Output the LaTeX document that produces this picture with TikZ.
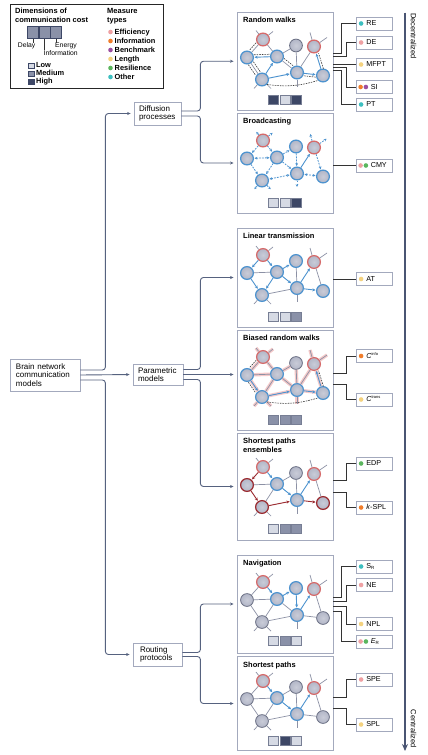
\documentclass[tikz,border=0pt]{standalone}
\usepackage{fontspec}
\setmainfont{Liberation Sans}
\usetikzlibrary{arrows.meta,calc}
\definecolor{treec}{HTML}{56627F}
\definecolor{panelc}{HTML}{A3A9BD}
\definecolor{nodefill}{HTML}{B2B6C7}
\definecolor{nblue}{HTML}{4D93CF}
\definecolor{nred}{HTML}{D66A6A}
\definecolor{ngray}{HTML}{6B7084}
\definecolor{ndred}{HTML}{9B2B30}
\definecolor{egray}{HTML}{8C91A5}
\definecolor{pinkhalo}{HTML}{F4C9C9}
\definecolor{cLow}{HTML}{D6DAE4}
\definecolor{cMed}{HTML}{8A91A8}
\definecolor{cHigh}{HTML}{3D4766}
\definecolor{mEff}{HTML}{EFA1A3}
\definecolor{mInf}{HTML}{F07D2B}
\definecolor{mBen}{HTML}{9C4FA0}
\definecolor{mLen}{HTML}{F4D27F}
\definecolor{mRes}{HTML}{5BB65E}
\definecolor{mOth}{HTML}{3DBFC0}
\definecolor{axisc}{HTML}{4A5573}
\tikzset{
  box/.style={draw=panelc, line width=0.8pt, fill=white, align=left, inner ysep=3pt,
    font=\fontsize{8}{8.7}\selectfont},
  panel/.style={draw=panelc, line width=0.9pt, minimum width=96pt, inner sep=0pt},
  ttl/.style={font=\bfseries\fontsize{7.5}{9}\selectfont, anchor=base west, inner sep=0pt},
  lgtitle/.style={font=\bfseries\fontsize{7.5}{9}\selectfont, anchor=base west, inner sep=0pt},
  small/.style={font=\fontsize{6.8}{8}\selectfont, inner sep=0pt},
  litem/.style={font=\bfseries\fontsize{7.4}{8}\selectfont, inner sep=0pt, anchor=west, text height=5.4pt, text depth=1.4pt},
  lsq/.style={draw=cHigh, line width=0.6pt, minimum width=11pt, minimum height=11.5pt, inner sep=0pt},
  lsqs/.style={draw=cHigh, line width=0.5pt, minimum size=5.5pt, inner sep=0pt},
  nd/.style={circle, minimum size=12.8pt, inner sep=0pt, inner color=nodefill!70!white, outer color=nodefill, line width=1.2pt},
  bn/.style={nd, draw=nblue},
  rn/.style={nd, draw=nred},
  gn/.style={nd, draw=ngray, line width=0.8pt},
  dn/.style={nd, draw=ndred},
  ed/.style={draw=egray, line width=0.7pt},
  halo/.style={draw=pinkhalo, line width=3.4pt},
  ba/.style={draw=nblue, line width=0.9pt, -{Stealth[length=3.2pt,width=3pt]}, shorten >=0.5pt},
  ra/.style={draw=ndred, line width=0.9pt, -{Stealth[length=3.2pt,width=3pt]}, shorten >=0.5pt},
  bda/.style={draw=nblue, line width=0.8pt, dash pattern=on 1.8pt off 1.2pt, -{Stealth[length=2.8pt,width=2.7pt]}, shorten >=0.5pt},
  bdd/.style={draw=nblue, line width=0.8pt, dash pattern=on 1.8pt off 1.2pt, {Stealth[length=2.8pt,width=2.7pt]}-{Stealth[length=2.8pt,width=2.7pt]}, shorten >=0.5pt, shorten <=0.5pt},
  dsh/.style={draw=black!75, line width=0.6pt, dash pattern=on 1.6pt off 1pt},
  costsq/.style={draw=cHigh!70, line width=0.5pt, minimum width=10pt, minimum height=9pt, inner sep=0pt},
  meas/.style={draw=panelc, line width=0.8pt, fill=white, minimum width=36pt, minimum height=13pt, inner sep=0pt},
  mtext/.style={font=\fontsize{7.2}{8}\selectfont, anchor=west, inner sep=0pt, text height=5.2pt, text depth=0.8pt},
  dot/.style={circle, minimum size=4.6pt, inner sep=0pt},
  mline/.style={draw=black!80, line width=0.8pt},
  tree/.style={draw=treec, line width=0.9pt, rounded corners=3pt, -{Stealth[length=3.5pt,width=3pt]}, shorten >=3pt},
  axis/.style={draw=axisc, line width=1.8pt, -{Stealth[length=7pt,width=6pt]}},
  side/.style={font=\fontsize{7.5}{9}\selectfont, inner sep=0pt, rotate=-90}
}
\newcommand\netnodes[9]{%
  \node[#2] (#1A) at (26,27) {};
  \node[#3] (#1B) at (59,33) {};
  \node[#4] (#1C) at (77,34) {};
  \node[#5] (#1D) at (10,45) {};
  \node[#6] (#1E) at (40,44) {};
  \node[#7] (#1F) at (25,67) {};
  \node[#8] (#1G) at (60,60) {};
  \node[#9] (#1H) at (86,63) {};
}
\newcommand\netstubs[2]{%
  \draw[#2] (#1A) -- ++(-7,-9);
  \draw[#2] (#1A) -- ++(10,-8);
  \draw[#2] (#1C) -- ++(-4,-14);
  \draw[#2] (#1C) -- ++(13,-9);
  \draw[#2] (#1F) -- ++(-8,9);
  \draw[#2] (#1F) -- ++(9,9);
  \draw[#2] (#1G) -- ++(0,14);
}
\newcommand\ned[4]{\draw[#1] (#2#3) -- (#2#4);}
\newcommand\cost[5]{%
  \node[costsq, fill=#3] (#1ca) at ([xshift=-11.5pt,yshift=#2]#1.south) {};
  \node[costsq, fill=#4] (#1cb) at ([yshift=#2]#1.south) {};
  \node[costsq, fill=#5] (#1cc) at ([xshift=11.5pt,yshift=#2]#1.south) {};
}
\newcommand\measbox[4]{%
  \node[meas] (m#1) at (374,#2) {};
  \node[dot, fill=#3] (m#1d) at ([xshift=5.5pt]m#1.west) {};
  \node[mtext] (m#1t) at ([xshift=10.5pt]m#1.west) {#4};
}
\newcommand\measboxb[5]{%
  \node[meas] (m#1) at (374,#2) {};
  \node[dot, fill=#3] (m#1d) at ([xshift=5pt]m#1.west) {};
  \node[dot, fill=#4] (m#1e) at ([xshift=10.3pt]m#1.west) {};
  \node[mtext] (m#1t) at ([xshift=15pt]m#1.west) {#5};
}
\begin{document}
\begin{tikzpicture}[x=1pt,y=-1pt]
\useasboundingbox (0,0) rectangle (428,755);
\fill[white] (0,0) rectangle (428,755);

% ---------------- legend
\node[draw=black!85, line width=0.8pt, minimum width=153pt, minimum height=84pt, inner sep=0pt] (legend) at (86.5,46) {};
\node[lgtitle] (lg1) at (15,13) {Dimensions of};
\node[lgtitle] (lg2) at (15,22) {communication cost};
\node[lgtitle] (lg3) at (107,13) {Measure};
\node[lgtitle] (lg4) at (107,22) {types};
\node[lsq, fill=cMed] (ls1) at (33,32.5) {};
\node[lsq, fill=cMed] (ls2) at (44.5,32.5) {};
\node[lsq, fill=cMed] (ls3) at (56,32.5) {};
\node[small, anchor=north east] (lDelay) at (35.5,42.8) {Delay};
\node[small, anchor=north west] (lInfo) at (43.5,50.2) {Information};
\node[small, anchor=north west] (lEn) at (55,42.8) {Energy};
\draw[black!80, line width=0.6pt] (ls1.south) -- (ls1.south |- lDelay.north);
\draw[black!80, line width=0.6pt] (ls2.south) -- (ls2.south |- lInfo.north);
\draw[black!80, line width=0.6pt] (ls3.south) -- (ls3.south |- lEn.north);
\node[lsqs, fill=cLow] (lLowS) at (31,65.5) {};
\node[lsqs, fill=cMed] (lMedS) at (31,73.5) {};
\node[lsqs, fill=cHigh] (lHighS) at (31,81.5) {};
\node[litem] (lLow) at (36,65.5) {Low};
\node[litem] (lMed) at (36,73.5) {Medium};
\node[litem] (lHigh) at (36,81.5) {High};
\node[dot, fill=mEff] (dEff) at (110.5,32) {};
\node[dot, fill=mInf] (dInf) at (110.5,41) {};
\node[dot, fill=mBen] (dBen) at (110.5,50) {};
\node[dot, fill=mLen] (dLen) at (110.5,59) {};
\node[dot, fill=mRes] (dRes) at (110.5,68) {};
\node[dot, fill=mOth] (dOth) at (110.5,77) {};
\node[litem] (tEff) at (114.5,32) {Efficiency};
\node[litem] (tInf) at (114.5,41) {Information};
\node[litem] (tBen) at (114.5,50) {Benchmark};
\node[litem] (tLen) at (114.5,59) {Length};
\node[litem] (tRes) at (114.5,68) {Resilience};
\node[litem] (tOth) at (114.5,77) {Other};

% ---------------- tree boxes
\node[box, text width=58pt, inner xsep=6pt, minimum height=32pt] (brain) at (45,375) {Brain network\\communication\\models};
\node[box, text width=37pt, inner xsep=5pt, minimum height=23pt] (diff) at (157.5,113.5) {Diffusion\\processes};
\node[box, text width=40pt, inner xsep=5pt, minimum height=21pt] (param) at (158,374.5) {Parametric\\models};
\node[box, text width=35pt, inner xsep=7pt, minimum height=23pt] (route) at (157.5,654.5) {Routing\\protocols};

% ---------------- panels
\node[panel, minimum height=97.5pt] (rw) at (285,61.25) {};
\node[panel, minimum height=100pt] (bc) at (285,163) {};
\node[panel, minimum height=99pt] (lt) at (285,277.5) {};
\node[panel, minimum height=100pt] (brw) at (285,380) {};
\node[panel, minimum height=107pt] (spe) at (285,486.5) {};
\node[panel, minimum height=98pt] (nav) at (285,604) {};
\node[panel, minimum height=94pt] (sp) at (285,703.5) {};

\node[ttl] (rwt) at (243,22.5) {Random walks};
\node[ttl] (bct) at (243,123.5) {Broadcasting};
\node[ttl] (ltt) at (243,238.5) {Linear transmission};
\node[ttl] (brwt) at (243,340.5) {Biased random walks};
\node[ttl] (spet) at (243,443.5) {Shortest paths};
\node[ttl] (spet2) at (243,452.5) {ensembles};
\node[ttl] (navt) at (243,565.5) {Navigation};
\node[ttl] (spt) at (243,667.5) {Shortest paths};

% ---------------- tree connectors
\draw[tree] ([yshift=5pt]brain.east) -- ++(25,0) |- (diff.west);
\draw[tree] (brain.east) -- (param.west);
\draw[tree] ([yshift=-5pt]brain.east) -- ++(25,0) |- (route.west);
\draw[tree] ([yshift=2.5pt]diff.east) -- ++(19,0) |- (rw.west);
\draw[tree] ([yshift=-2.5pt]diff.east) -- ++(19,0) |- (bc.west);
\draw[tree] ([yshift=5pt]param.east) -- ++(17,0) |- (lt.west);
\draw[tree] (param.east) -- (param.east -| brw.west);
\draw[tree] ([yshift=-5pt]param.east) -- ++(17,0) |- (spe.west);
\draw[tree] ([yshift=2pt]route.east) -- ++(18,0) |- (nav.west);
\draw[tree] ([yshift=-2pt]route.east) -- ++(18,0) |- (sp.west);

% ---------------- axis
\coordinate (axtop) at (405,12.5);
\coordinate (axbot) at (405,751);
\draw[axis] (axtop) -- (axbot);
\node[side, anchor=west] (decl) at (413.5,13) {Decentralized};
\node[side, anchor=east] (centl) at (413.5,748) {Centralized};

% ---------------- measure boxes
\measbox{RE}{23.5}{mOth}{RE}
\measbox{DE}{42.5}{mEff}{DE}
\measbox{MFPT}{64.5}{mLen}{MFPT}
\measboxb{SI}{87}{mInf}{mBen}{SI}
\measbox{PT}{104.5}{mOth}{PT}
\measboxb{CMY}{165.5}{mEff}{mRes}{CMY}
\measbox{AT}{279}{mLen}{AT}
\measbox{Cinfo}{356}{mInf}{\textit{C}\textsuperscript{\fontsize{4}{4}\selectfont info}}
\measbox{Ctrans}{399.5}{mLen}{\textit{C}\textsuperscript{\fontsize{4}{4}\selectfont trans}}
\measbox{EDP}{463.5}{mRes}{EDP}
\measbox{KSPL}{507.5}{mInf}{\textit{k}-SPL}
\measbox{SR}{566.5}{mOth}{S\textsubscript{\fontsize{4.5}{4.5}\selectfont R}}
\measbox{NE}{585}{mEff}{NE}
\measbox{NPL}{624}{mLen}{NPL}
\measboxb{ER}{641.5}{mEff}{mRes}{\textit{E}\textsubscript{\fontsize{4.5}{4.5}\selectfont R}}
\measbox{SPE}{679.5}{mEff}{SPE}
\measbox{SPL}{724.5}{mLen}{SPL}

% ---------------- measure connectors
\draw[mline] ([yshift=8pt]rw.east) -| ([xshift=-14pt]mRE.west) -- (mRE.west);
\draw[mline] ([yshift=5pt]rw.east) -| ([xshift=-9pt]mDE.west) -- (mDE.west);
\draw[mline] (rw.east |- mMFPT.west) -- (mMFPT.west);
\draw[mline] ([yshift=-6.5pt]rw.east) -| ([xshift=-9pt]mSI.west) -- (mSI.west);
\draw[mline] ([yshift=-9.5pt]rw.east) -| ([xshift=-14pt]mPT.west) -- (mPT.west);
\draw[mline] (bc.east |- mCMY.west) -- (mCMY.west);
\draw[mline] (lt.east |- mAT.west) -- (mAT.west);
\draw[mline] ([yshift=7pt]brw.east) -| ([xshift=-9pt]mCinfo.west) -- (mCinfo.west);
\draw[mline] ([yshift=-4pt]brw.east) -| ([xshift=-9pt]mCtrans.west) -- (mCtrans.west);
\draw[mline] ([yshift=6.5pt]spe.east) -| ([xshift=-9pt]mEDP.west) -- (mEDP.west);
\draw[mline] ([yshift=-5.5pt]spe.east) -| ([xshift=-9pt]mKSPL.west) -- (mKSPL.west);
\draw[mline] ([yshift=6.5pt]nav.east) -| ([xshift=-14pt]mSR.west) -- (mSR.west);
\draw[mline] ([yshift=3pt]nav.east) -| ([xshift=-9pt]mNE.west) -- (mNE.west);
\draw[mline] ([yshift=-2pt]nav.east) -| ([xshift=-9pt]mNPL.west) -- (mNPL.west);
\draw[mline] ([yshift=-7pt]nav.east) -| ([xshift=-14pt]mER.west) -- (mER.west);
\draw[mline] ([yshift=6.5pt]sp.east) -| ([xshift=-9pt]mSPE.west) -- (mSPE.west);
\draw[mline] ([yshift=-5pt]sp.east) -| ([xshift=-9pt]mSPL.west) -- (mSPL.west);

% ---------------- cost squares
\cost{rw}{10.5pt}{cHigh}{cLow}{cHigh}
\cost{bc}{11pt}{cLow}{cLow}{cHigh}
\cost{lt}{11pt}{cLow}{cLow}{cMed}
\cost{brw}{11pt}{cMed}{cMed}{cMed}
\cost{spe}{11.5pt}{cLow}{cMed}{cMed}
\cost{nav}{12.5pt}{cLow}{cMed}{cLow}
\cost{sp}{10pt}{cLow}{cHigh}{cLow}

% ---------------- networks
% random walks
\begin{scope}[shift={(237,12.5)}]
\netnodes{rw}{rn}{gn}{rn}{bn}{bn}{bn}{bn}{bn}
\end{scope}
\netstubs{rw}{ed}
\ned{ed}{rw}{A}{D} \ned{ed}{rw}{A}{E} \ned{ed}{rw}{E}{B} \ned{ed}{rw}{B}{G}
\ned{ed}{rw}{G}{C} \ned{ed}{rw}{E}{G} \ned{ed}{rw}{D}{F}
\ned{ba}{rw}{E}{D} \ned{ba}{rw}{F}{E} \ned{ba}{rw}{F}{G} \ned{ba}{rw}{G}{H} \ned{ba}{rw}{H}{C}
\draw[dsh, transform canvas={shift={(-2.2pt,2pt)}}] (rwA) -- (rwD);
\draw[dsh, transform canvas={shift={(-2.5pt,-1.5pt)}}] (rwD) -- (rwF);
\draw[dsh, transform canvas={shift={(2.5pt,1.5pt)}}] (rwD) -- (rwF);
\draw[dsh, transform canvas={shift={(0pt,2.5pt)}}] (rwD) -- (rwE);
\draw[dsh, transform canvas={shift={(1.5pt,2.5pt)}}] (rwE) -- (rwG);
\draw[dsh, transform canvas={shift={(0pt,-2.5pt)}}] (rwG) -- (rwH);
\draw[dsh, transform canvas={shift={(2.5pt,0pt)}}] (rwH) -- (rwC);
\draw[dsh] (rwF.south east) to[bend right=12] (rwH.south west);

% broadcasting
\begin{scope}[shift={(237,113.5)}]
\netnodes{bc}{rn}{bn}{rn}{bn}{bn}{bn}{bn}{bn}
\end{scope}
\netstubs{bc}{bda}
\ned{bda}{bc}{A}{D} \ned{bda}{bc}{A}{E} \ned{bdd}{bc}{D}{E} \ned{bda}{bc}{D}{F}
\ned{bda}{bc}{E}{F} \ned{bda}{bc}{E}{B} \ned{bda}{bc}{E}{G} \ned{bda}{bc}{B}{G}
\ned{ba}{bc}{G}{C} \ned{bda}{bc}{C}{H} \ned{bdd}{bc}{F}{G} \ned{bdd}{bc}{G}{H}

% linear transmission
\begin{scope}[shift={(237,228)}]
\netnodes{lt}{rn}{bn}{rn}{bn}{bn}{bn}{bn}{bn}
\end{scope}
\netstubs{lt}{ed}
\ned{ba}{lt}{A}{D} \ned{ba}{lt}{A}{E} \ned{ed}{lt}{D}{E} \ned{ba}{lt}{D}{F}
\ned{ba}{lt}{E}{F} \ned{ba}{lt}{E}{B} \ned{ba}{lt}{E}{G} \ned{ed}{lt}{B}{G}
\ned{ba}{lt}{G}{C} \ned{ed}{lt}{C}{H} \ned{ed}{lt}{F}{G} \ned{ba}{lt}{G}{H}

% biased random walks
\begin{scope}[shift={(237,330)}]
\netnodes{brw}{rn}{gn}{rn}{bn}{bn}{bn}{bn}{bn}
\end{scope}
\foreach \a/\b in {A/D,A/E,D/E,D/F,E/F,E/B,E/G,B/G,G/C,C/H,F/G,G/H}{\draw[halo] (brw\a) -- (brw\b);}
\netstubs{brw}{halo}
\netstubs{brw}{ed}
\ned{ed}{brw}{A}{D} \ned{ed}{brw}{A}{E} \ned{ed}{brw}{D}{E} \ned{ba}{brw}{D}{F}
\ned{ed}{brw}{E}{F} \ned{ed}{brw}{E}{B} \ned{ed}{brw}{E}{G} \ned{ed}{brw}{B}{G}
\ned{ed}{brw}{G}{C} \ned{ba}{brw}{H}{C} \ned{ba}{brw}{F}{G} \ned{ba}{brw}{G}{H}
\draw[dsh, transform canvas={shift={(-2.2pt,2pt)}}] (brwA) -- (brwD);
\draw[dsh, transform canvas={shift={(-2.5pt,-1.5pt)}}] (brwD) -- (brwF);
\draw[dsh, transform canvas={shift={(2.5pt,0pt)}}] (brwH) -- (brwC);
\draw[dsh] (brwF.south east) to[bend right=12] (brwH.south west);

% shortest paths ensembles
\begin{scope}[shift={(237,440)}]
\netnodes{spe}{rn}{gn}{rn}{dn}{bn}{dn}{bn}{dn}
\end{scope}
\netstubs{spe}{ed}
\ned{ra}{spe}{A}{D} \ned{ba}{spe}{A}{E} \ned{ed}{spe}{D}{E} \ned{ra}{spe}{D}{F}
\ned{ed}{spe}{E}{F} \ned{ed}{spe}{E}{B} \ned{ba}{spe}{E}{G} \ned{ed}{spe}{B}{G}
\ned{ba}{spe}{G}{C} \ned{ed}{spe}{C}{H} \ned{ra}{spe}{F}{G} \ned{ra}{spe}{G}{H}

% navigation
\begin{scope}[shift={(237,555)}]
\netnodes{nav}{rn}{bn}{rn}{gn}{bn}{gn}{bn}{gn}
\end{scope}
\netstubs{nav}{ed}
\ned{ed}{nav}{A}{D} \ned{ba}{nav}{A}{E} \ned{ed}{nav}{D}{E} \ned{ed}{nav}{D}{F}
\ned{ed}{nav}{E}{F} \ned{ba}{nav}{E}{B} \ned{ed}{nav}{E}{G} \ned{ba}{nav}{B}{G}
\ned{ba}{nav}{G}{C} \ned{ed}{nav}{C}{H} \ned{ed}{nav}{F}{G} \ned{ed}{nav}{G}{H}

% shortest paths
\begin{scope}[shift={(237,654)}]
\netnodes{sp}{rn}{gn}{rn}{gn}{bn}{gn}{bn}{gn}
\end{scope}
\netstubs{sp}{ed}
\ned{ed}{sp}{A}{D} \ned{ba}{sp}{A}{E} \ned{ed}{sp}{D}{E} \ned{ed}{sp}{D}{F}
\ned{ed}{sp}{E}{F} \ned{ed}{sp}{E}{B} \ned{ba}{sp}{E}{G} \ned{ed}{sp}{B}{G}
\ned{ba}{sp}{G}{C} \ned{ed}{sp}{C}{H} \ned{ed}{sp}{F}{G} \ned{ed}{sp}{G}{H}
\end{tikzpicture}
\end{document}
